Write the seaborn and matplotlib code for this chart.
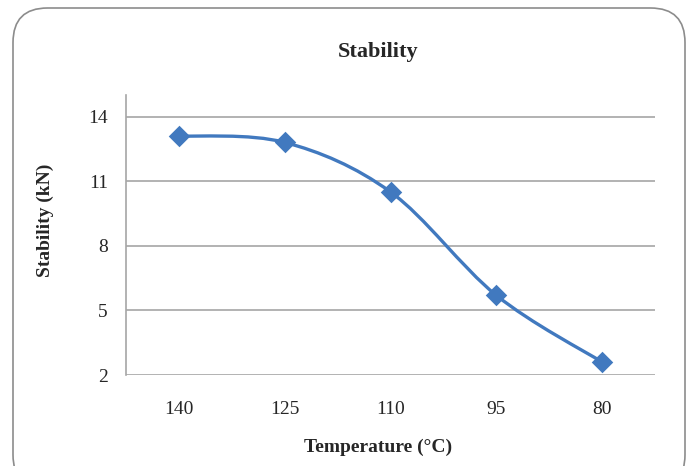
import numpy as np
import pandas as pd
import matplotlib
matplotlib.use("Agg")
import matplotlib.pyplot as plt
import seaborn as sns
from matplotlib.path import Path
from matplotlib.patches import PathPatch, FancyBboxPatch

# data
temperatures = ["140", "125", "110", "95", "80"]
stability = [13.1, 12.8, 10.5, 5.7, 2.6]
y_ticks = [2, 5, 8, 11, 14]

sns.set_style("white")
plt.rcParams["font.family"] = ["Liberation Serif", "DejaVu Serif"]

blue = "#4179BF"
grid_gray = "#A6A6A6"

df = pd.DataFrame({"Temperature": temperatures, "Stability": stability})
df["pos"] = np.arange(len(df))

fig = plt.figure(figsize=(6.9, 4.66), dpi=100)
ax = fig.add_axes([126 / 690, 1 - 375 / 466, (655 - 126) / 690, (375 - 95) / 466])

# smoothed line (Catmull-Rom style bezier through the points, like Excel's smoothing)
xs = df["pos"].to_numpy(dtype=float)
ys = df["Stability"].to_numpy(dtype=float)
verts = [(xs[0], ys[0])]
codes = [Path.MOVETO]
for i in range(len(xs) - 1):
    p0 = (xs[max(i - 1, 0)], ys[max(i - 1, 0)])
    p1 = (xs[i], ys[i])
    p2 = (xs[i + 1], ys[i + 1])
    p3 = (xs[min(i + 2, len(xs) - 1)], ys[min(i + 2, len(xs) - 1)])
    c1 = (p1[0] + (p2[0] - p0[0]) / 6, p1[1] + (p2[1] - p0[1]) / 6)
    c2 = (p2[0] - (p3[0] - p1[0]) / 6, p2[1] - (p3[1] - p1[1]) / 6)
    verts += [c1, c2, p2]
    codes += [Path.CURVE4] * 3
ax.add_patch(PathPatch(Path(verts, codes), facecolor="none", edgecolor=blue,
                       lw=2.4, zorder=3, capstyle="round"))

sns.scatterplot(data=df, x="pos", y="Stability", marker="D", s=120,
                color=blue, edgecolor=blue, linewidth=0, ax=ax, zorder=4)

ax.set_xlim(-0.5, len(temperatures) - 0.5)
ax.set_ylim(2, 15)
ax.set_yticks(y_ticks)
ax.set_xticks(df["pos"])
ax.set_xticklabels(temperatures)
ax.set_xlabel("")
ax.set_ylabel("")
ax.tick_params(axis="y", length=5, width=1, color=grid_gray, labelsize=14, pad=8)
ax.tick_params(axis="x", length=0, labelsize=14, pad=19)
ax.grid(axis="y", color=grid_gray, lw=1.2)
for side in ["top", "right", "bottom"]:
    ax.spines[side].set_visible(False)
ax.spines["left"].set_color(grid_gray)
ax.spines["left"].set_linewidth(1.2)

fig.text(378 / 690, 1 - 52 / 466, "Stability", ha="center", va="center",
         fontsize=16, fontweight="bold")
fig.text(378 / 690, 1 - 447 / 466, "Temperature (°C)", ha="center", va="center",
         fontsize=14, fontweight="bold")
fig.text(45 / 690, 1 - 220 / 466, "Stability (kN)", ha="center", va="center",
         rotation=90, fontsize=14, fontweight="bold")

# rounded chart border
fig.patches.append(FancyBboxPatch((13 / 690, -0.05), 672 / 690, 1 - 8 / 466 + 0.05,
                                  boxstyle="round,pad=0,rounding_size=0.05",
                                  transform=fig.transFigure, facecolor="none",
                                  edgecolor="#8C8C8C", lw=1.2, mutation_aspect=690 / 466))

fig.savefig("out.png", dpi=100)
